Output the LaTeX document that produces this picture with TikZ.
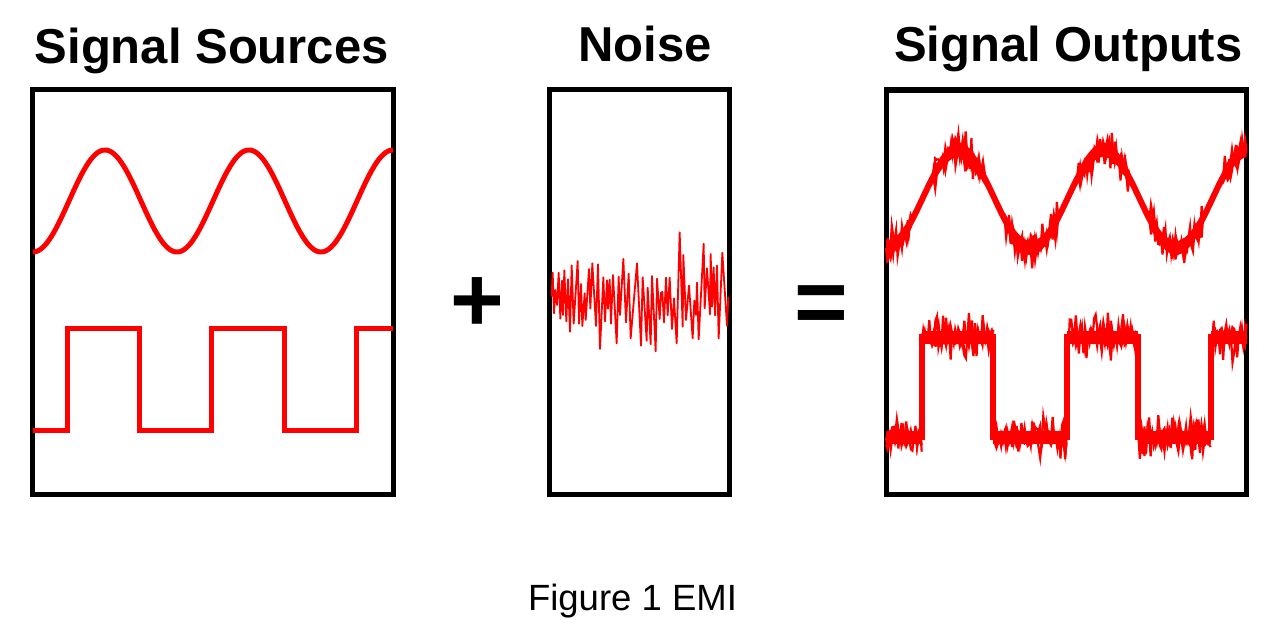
\documentclass[tikz,border=0pt]{standalone}
\usepackage{fontspec}
\setmainfont{Liberation Sans}
\begin{document}
\begin{tikzpicture}[x=1pt,y=-1pt,
  panel/.style={draw=black, line width=5.5pt},
  wave/.style={draw=red, line width=5pt},
  thickwave/.style={draw=red, line width=6pt},
  coreband/.style={draw=red, line width=13pt},
  jitter/.style={draw=red, line width=2.2pt, line join=miter},
  title/.style={font=\bfseries\fontsize{49}{58}\selectfont, anchor=base},
  opsign/.style={font=\bfseries\fontsize{92}{100}\selectfont, anchor=base},
  caption/.style={font=\fontsize{36.5}{43}\selectfont, anchor=base}]
\pgfmathsetseed{4711}
\fill[white] (0,0) rectangle (1272,642);
\useasboundingbox (0,0) rectangle (1272,642);

% titles
\node[title] (tsrc) at (211.7,63.3) {Signal Sources};
\node[title] (tnoise) at (645,62) {Noise};
\node[title] (tout) at (1068.3,62) {Signal Outputs};

% panels
\draw[panel] (32.5,89.5) rectangle (393.5,494.5);
\draw[panel] (549.7,89.7) rectangle (729.7,494.7);
\draw[panel] (886.3,90) rectangle (1246.7,494.7);

% source sine
\draw[wave] plot[domain=33:393, samples=200, smooth] (\x, {201 + 51*cos(2.5*(\x-33))});
% source square
\draw[wave, line join=miter] (33,430.7) -- (67,430.7) -- (67,328.7) -- (139,328.7) -- (139,430.7)
  -- (211,430.7) -- (211,328.7) -- (284,328.7) -- (284,430.7) -- (356,430.7)
  -- (356,328.7) -- (393,328.7);

% noise
\begin{scope}[xshift=540pt, yshift=-80pt, x=0.33333pt, y=-0.33333pt]
\draw[draw=red, line width=1.8pt, line join=round]
 (35,650)--(38,578)--(42,700)--(46,630)--(51,675)--(56,578)--(61,716)--(66,602)--(69,705)--(73,571)
 --(79,724)--(84,598)--(90,755)--(95,556)--(101,731)--(113,543)--(117,731)--(123,612)--(127,738)--(134,640)
 --(137,720)--(147,567)--(151,686)--(157,550)--(168,738)--(174,553)--(180,807)--(190,592)--(195,724)--(201,601)
 --(204,686)--(209,599)--(213,731)--(219,585)--(230,790)--(236,590)--(240,705)--(250,537)--(258,727)--(266,581)
 --(272,775)--(291,550)--(303,797)--(308,592)--(320,782)--(323,623)--(332,793)--(336,588)--(347,814)--(351,596)
 --(359,717)--(363,638)--(367,636)--(372,727)--(378,593)--(383,706)--(389,593)--(396,747)--(402,655)--(410,790)
 --(419,457)--(428,740)--(430,525)--(438,720)--(447,617)--(458,775)--(463,662)--(468,705)--(471,608)--(476,778)
 --(491,491)--(494,685)--(501,565)--(510,703)--(512,522)--(516,680)--(521,562)--(525,706)--(531,557)--(536,775)
 --(547,518)--(561,737)--(565,650);
\end{scope}

% output sine
\draw[thickwave] plot[domain=886:1246.5, samples=150, smooth] (\x, {199 + 49*cos(2.48276*(\x-886))});
\foreach \a/\b in {886/912, 932.5/984.5, 1005/1057, 1077.5/1129.5, 1150/1202, 1222.5/1246.5}
  \fill[red] plot[domain=\a:\b, samples=25, smooth] (\x, {192 + 49*cos(2.48276*(\x-886))})
    -- plot[domain=\b:\a, samples=25, smooth] (\x, {206 + 49*cos(2.48276*(\x-886))}) -- cycle;
\foreach \pass in {1,2,3}
  \draw[jitter] plot[domain=886:1246.5, samples=250] (\x, {199 + 49*cos(2.48276*(\x-886)) + (abs(cos(2.48276*(\x-886)))>0.43)*(22*rand*abs(rand))});

% output square
\draw[thickwave, line join=miter] (886,437) -- (921.7,437) -- (921.7,337) -- (993.3,337) -- (993.3,437)
  -- (1066.7,437) -- (1066.7,337) -- (1138.3,337) -- (1138.3,437) -- (1210.7,437)
  -- (1210.7,337) -- (1246.5,337);
\foreach \a/\b/\l in {886/921.7/437, 921.7/993.3/337, 993.3/1066.7/437,
  1066.7/1138.3/337, 1138.3/1210.7/437, 1210.7/1246.5/337}
  \draw[coreband] (\a,\l) -- (\b,\l);
\foreach \pass in {1,2,3}
\foreach \a/\b/\l/\n in {886/921.7/437/24, 921.7/993.3/337/48, 993.3/1066.7/437/48,
  1066.7/1138.3/337/48, 1138.3/1210.7/437/48, 1210.7/1246.5/337/24}
  \draw[jitter] plot[domain=\a:\b, samples=\n] (\x, {\l + 26*rand*abs(rand)});

% operators
\node[opsign] (plus) at (477.5,331) {+};
\node[opsign] (equals) at (821,333.5) {=};

% caption
\node[caption] (cap) at (632.5,610) {Figure 1 EMI};
\end{tikzpicture}
\end{document}
